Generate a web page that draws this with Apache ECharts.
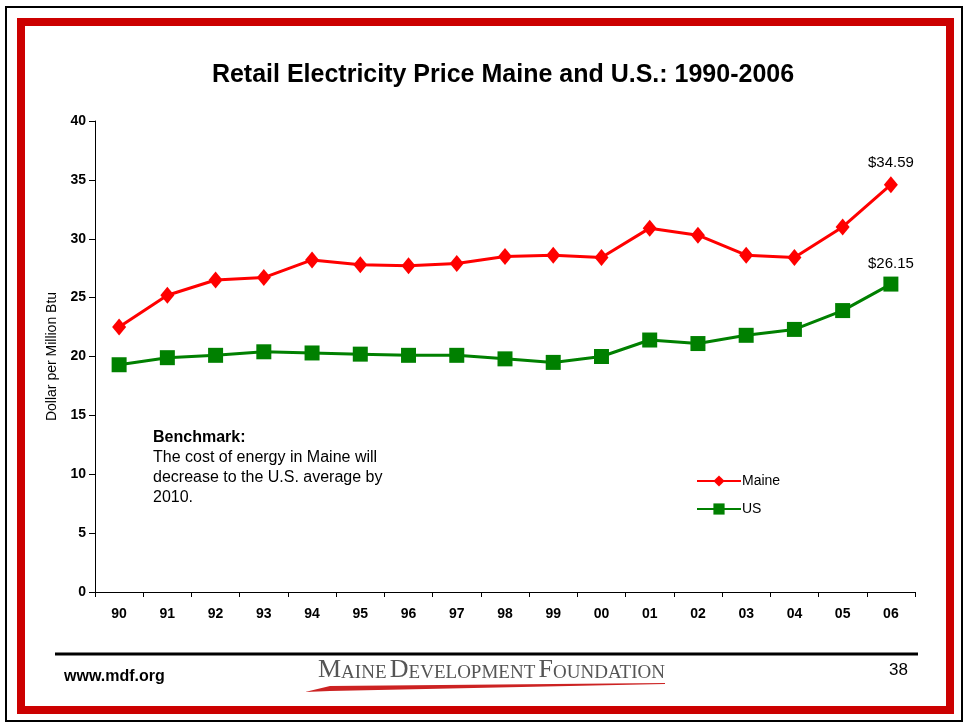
<!DOCTYPE html>
<html>
<head>
<meta charset="utf-8">
<script src="https://cdn.jsdelivr.net/npm/echarts@6/dist/echarts.min.js"></script>
<style>
  html, body { margin: 0; padding: 0; background: #fff; }
  #main { width: 966px; height: 724px; }
</style>
</head>
<body>
<div id="main"></div>
<script>
// years on the x axis
const years = ['90', '91', '92', '93', '94', '95', '96', '97', '98', '99', '00', '01', '02', '03', '04', '05', '06']
// dollars per million Btu
const maine = [22.5, 25.2, 26.5, 26.7, 28.2, 27.8, 27.7, 27.9, 28.5, 28.6, 28.4, 30.9, 30.3, 28.6, 28.4, 31.0, 34.59]
const us = [19.3, 19.9, 20.1, 20.4, 20.3, 20.2, 20.1, 20.1, 19.8, 19.5, 20.0, 21.4, 21.1, 21.8, 22.3, 23.9, 26.15]

const font = 'Liberation Sans, Arial, sans-serif'

// only label the last point
const lastLabel = function (params) {
  return params.dataIndex === years.length - 1 ? '$' + params.value.toFixed(2) : ''
}

const myChart = echarts.init(document.getElementById('main'))
myChart.setOption({
  animation: false,
  backgroundColor: '#fff',
  title: {
    text: 'Retail Electricity Price Maine and U.S.: 1990-2006',
    left: 498,
    top: 58,
    textAlign: 'center',
    textStyle: { fontFamily: font, fontSize: 25, fontWeight: 'bold', color: '#000' }
  },
  legend: {
    orient: 'vertical',
    left: 691,
    top: 469,
    itemWidth: 44,
    itemHeight: 14,
    itemGap: 14,
    textStyle: { fontFamily: font, fontSize: 14, color: '#000', padding: [0, 0, 0, -4] },
    data: ['Maine', 'US']
  },
  grid: { left: 95, right: 51, top: 121, bottom: 132 },
  xAxis: {
    type: 'category',
    data: years,
    axisLine: { lineStyle: { color: '#000', width: 1 } },
    axisTick: { show: true, length: 5, lineStyle: { color: '#000' } },
    axisLabel: { fontFamily: font, fontSize: 14, fontWeight: 'bold', color: '#000', margin: 15 }
  },
  yAxis: {
    type: 'value',
    min: 0,
    max: 40,
    interval: 5,
    name: 'Dollar per Million Btu',
    nameLocation: 'middle',
    nameGap: 36,
    nameTextStyle: { fontFamily: font, fontSize: 14, color: '#000' },
    splitLine: { show: false },
    axisLine: { show: true, lineStyle: { color: '#000', width: 1 } },
    axisTick: { show: true, length: 6, lineStyle: { color: '#000' } },
    axisLabel: { fontFamily: font, fontSize: 14, fontWeight: 'bold', color: '#000', margin: 9 }
  },
  series: [
    {
      name: 'Maine',
      type: 'line',
      data: maine,
      symbol: 'diamond',
      symbolSize: [14, 17],
      color: '#ff0000',
      lineStyle: { width: 3, color: '#ff0000' },
      itemStyle: { color: '#ff0000' },
      label: {
        show: true,
        position: 'top',
        distance: 6,
        formatter: lastLabel,
        fontFamily: font,
        fontSize: 15,
        color: '#000'
      }
    },
    {
      name: 'US',
      type: 'line',
      data: us,
      symbol: 'rect',
      symbolSize: 15,
      color: '#008000',
      lineStyle: { width: 3, color: '#008000' },
      itemStyle: { color: '#008000' },
      label: {
        show: true,
        position: 'top',
        distance: 5,
        formatter: lastLabel,
        fontFamily: font,
        fontSize: 15,
        color: '#000'
      }
    }
  ],
  graphic: [
    // outer black border
    { type: 'rect', shape: { x: 6, y: 7, width: 956, height: 714 }, style: { fill: null, stroke: '#000', lineWidth: 2 }, silent: true },
    // red frame
    { type: 'rect', shape: { x: 21, y: 22, width: 929, height: 688 }, style: { fill: null, stroke: '#cc0000', lineWidth: 8 }, silent: true },
    // benchmark note
    {
      type: 'text',
      left: 153,
      top: 428,
      style: {
        text: '{b|Benchmark:}\nThe cost of energy in Maine will\ndecrease to the U.S. average by\n2010.',
        fontFamily: font,
        fontSize: 16,
        lineHeight: 20,
        fill: '#000',
        rich: { b: { fontFamily: font, fontSize: 16, fontWeight: 'bold', lineHeight: 20 } }
      }
    },
    // footer rule
    { type: 'line', shape: { x1: 55, y1: 654, x2: 918, y2: 654 }, style: { stroke: '#000', lineWidth: 3 }, silent: true },
    {
      type: 'text',
      left: 64,
      top: 669,
      style: { text: 'www.mdf.org', fontFamily: font, fontSize: 16, fontWeight: 'bold', fill: '#000' }
    },
    {
      type: 'text',
      left: 889,
      top: 662,
      style: { text: '38', fontFamily: font, fontSize: 17, fill: '#000' }
    },
    // logo text in small caps
    {
      type: 'text',
      left: 318,
      top: 657,
      style: {
        text: '{c|M}{s|AINE} {c|D}{s|EVELOPMENT} {c|F}{s|OUNDATION}',
        rich: {
          c: { fontFamily: 'Liberation Serif, serif', fontSize: 26, fill: '#555', verticalAlign: 'bottom' },
          s: { fontFamily: 'Liberation Serif, serif', fontSize: 19, fill: '#555', verticalAlign: 'bottom' }
        }
      }
    },
    // red swoosh under logo
    {
      type: 'polygon',
      shape: { points: [[305, 692], [330, 686], [665, 683], [665, 684], [330, 691]] },
      style: { fill: '#cc2222' },
      silent: true
    }
  ]
})
</script>
</body>
</html>
